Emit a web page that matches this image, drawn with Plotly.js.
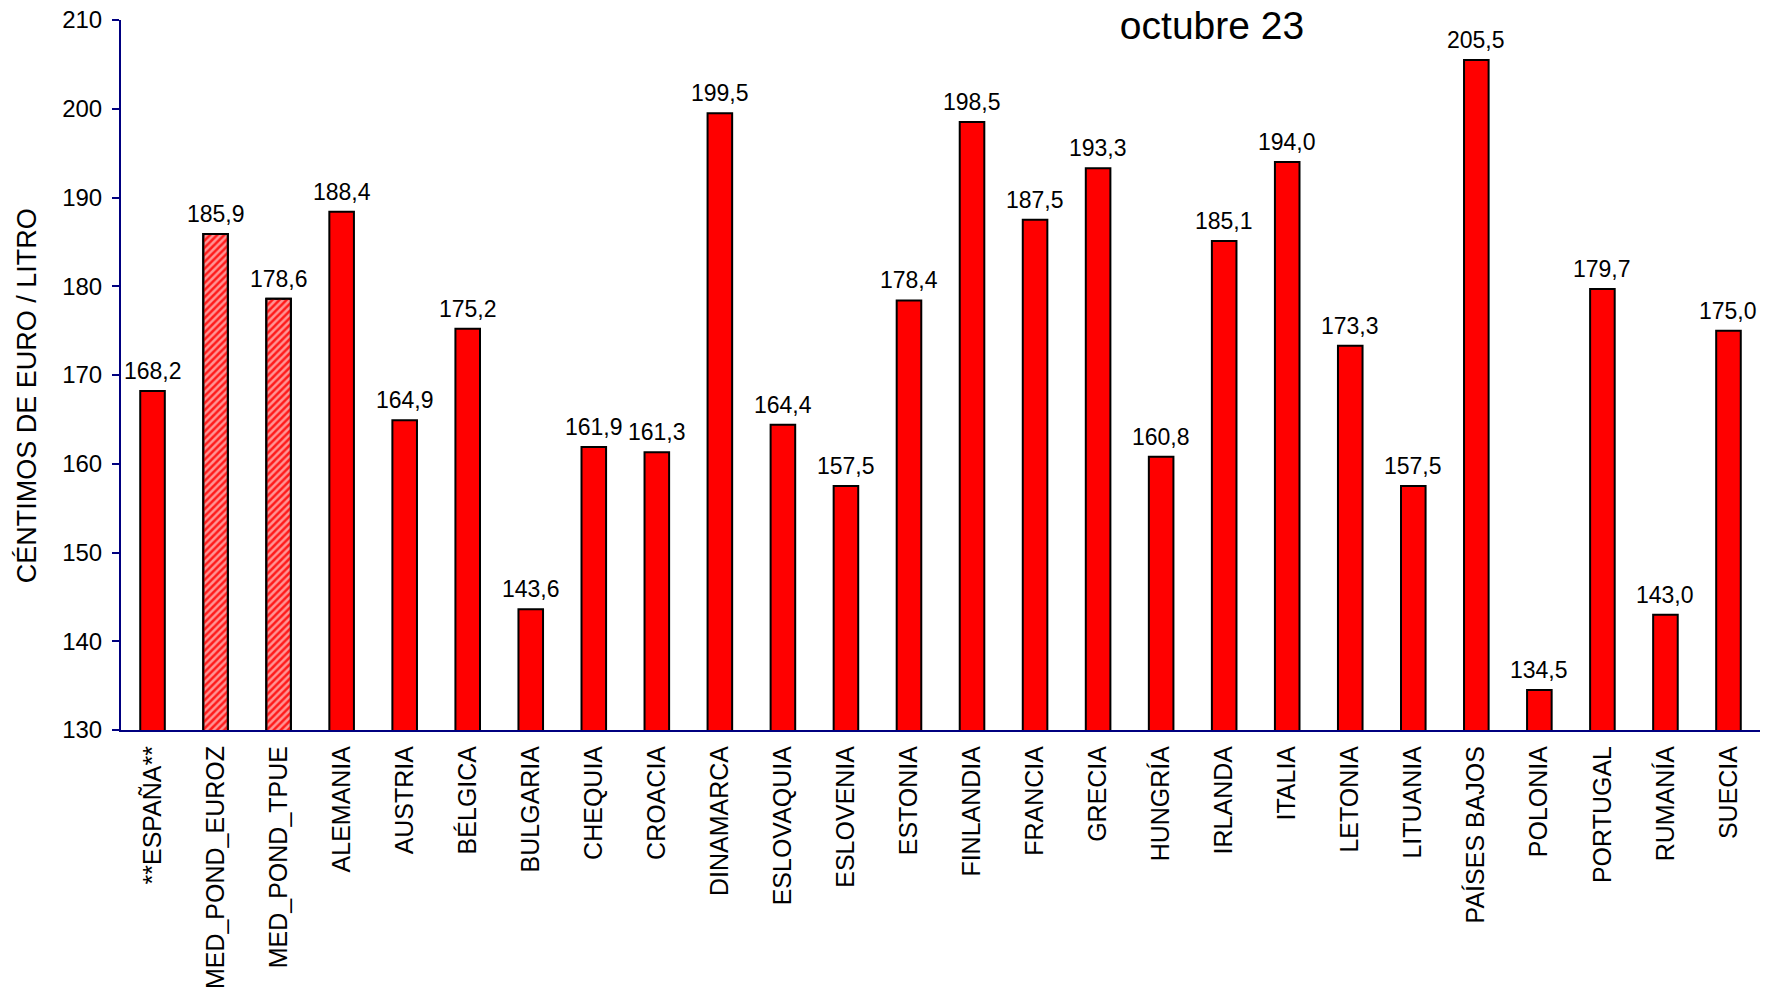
<!DOCTYPE html>
<html>
<head>
<meta charset="utf-8">
<script src="https://cdn.plot.ly/plotly-3.0.1.min.js"></script>
<style>
html,body{margin:0;padding:0;background:#fff;}
#chart{width:1765px;height:998px;}
</style>
</head>
<body>
<div id="chart"></div>
<script>
const categories = ['**ESPAÑA**','MED_POND_EUROZ','MED_POND_TPUE','ALEMANIA','AUSTRIA','BÉLGICA','BULGARIA','CHEQUIA','CROACIA','DINAMARCA','ESLOVAQUIA','ESLOVENIA','ESTONIA','FINLANDIA','FRANCIA','GRECIA','HUNGRÍA','IRLANDA','ITALIA','LETONIA','LITUANIA','PAÍSES BAJOS','POLONIA','PORTUGAL','RUMANÍA','SUECIA'];
const values = [168.2,185.9,178.6,188.4,164.9,175.2,143.6,161.9,161.3,199.5,164.4,157.5,178.4,198.5,187.5,193.3,160.8,185.1,194.0,173.3,157.5,205.5,134.5,179.7,143.0,175.0];
const averageCategories = ['MED_POND_EUROZ','MED_POND_TPUE'];
const titleText = 'octubre 23';
const yTitleText = 'CÉNTIMOS DE EURO / LITRO';

const FONT = 'Liberation Sans, Arial, sans-serif';
const fmt = v => v.toFixed(1).replace('.', ',');
const isAvg = categories.map(c => averageCategories.includes(c));

const baseTrace = {
  type: 'bar',
  x: categories,
  y: values,
  width: 0.39,
  marker: {
    color: isAvg.map(a => a ? '#ff9494' : '#ff0000'),
    line: {color: '#000000', width: 2}
  },
  hoverinfo: 'x+y'
};

const hatchTrace = {
  type: 'bar',
  x: categories,
  y: values.map((v, i) => isAvg[i] ? v : null),
  width: 0.39,
  marker: {
    color: 'rgba(0,0,0,0)',
    line: {color: '#000000', width: 2},
    pattern: {
      shape: '/',
      fillmode: 'replace',
      fgcolor: '#ff1a1a',
      size: 5,
      solidity: 0.5
    }
  },
  hoverinfo: 'skip'
};

const annotations = categories.map((c, i) => ({
  x: c, y: values[i], xref: 'x', yref: 'y',
  text: fmt(values[i]), showarrow: false,
  yanchor: 'bottom', yshift: 5,
  font: {family: FONT, size: 23, color: '#000'}
}));
annotations.push({
  xref: 'paper', yref: 'paper', x: -0.0575, y: 0.471,
  xanchor: 'center', yanchor: 'middle', textangle: -90,
  text: yTitleText, showarrow: false,
  font: {family: FONT, size: 27, color: '#000'}
});

const layout = {
  width: 1765, height: 998,
  margin: {l: 121, r: 5, t: 20, b: 268},
  paper_bgcolor: '#fff', plot_bgcolor: '#fff',
  showlegend: false,
  barmode: 'overlay',
  font: {family: FONT, color: '#000'},
  title: {
    text: titleText,
    font: {family: FONT, size: 39, color: '#000'},
    x: 0.6867, xref: 'container', xanchor: 'center',
    y: 0.975, yref: 'container', yanchor: 'middle'
  },
  xaxis: {
    type: 'category',
    range: [-0.5, categories.length - 0.5],
    showline: true, linecolor: '#000080', linewidth: 2,
    ticks: '', tickangle: -90,
    ticklabelstandoff: 4,
    tickfont: {family: FONT, size: 25, color: '#000'},
    showgrid: false, zeroline: false, fixedrange: true
  },
  yaxis: {
    range: [130, 210], dtick: 10, tick0: 130,
    showline: true, linecolor: '#000080', linewidth: 2,
    ticks: 'outside', ticklen: 7, tickwidth: 2, tickcolor: '#000080',
    ticklabelstandoff: 5,
    tickfont: {family: FONT, size: 24, color: '#000'},
    showgrid: false, zeroline: false, fixedrange: true
  },
  annotations: annotations
};

Plotly.newPlot('chart', [baseTrace, hatchTrace], layout, {displayModeBar: false, staticPlot: true});
</script>
</body>
</html>
